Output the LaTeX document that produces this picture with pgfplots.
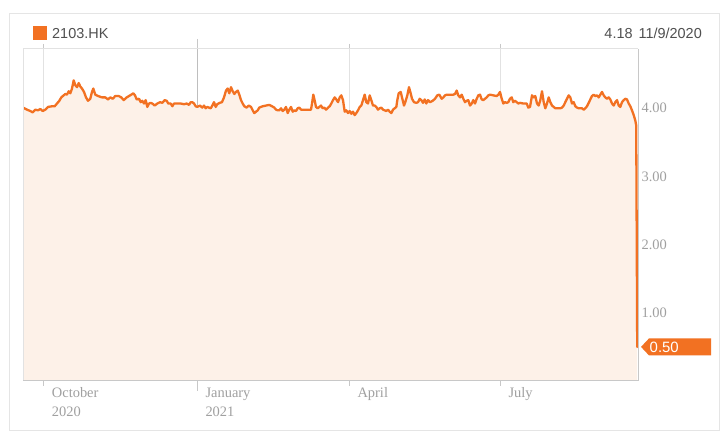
\documentclass[border=0pt]{standalone}
\usepackage{pgfplots}
\pgfplotsset{compat=1.18}
\usepackage{pgfplotstable}
\usepackage{fontspec}
\setmainfont{Liberation Serif}
\newfontfamily\hdrfont{Liberation Sans}
\definecolor{orng}{RGB}{242,113,34}
\definecolor{fillc}{RGB}{253,241,232}
\definecolor{framec}{RGB}{229,229,229}
\definecolor{gridc}{RGB}{226,226,226}
\definecolor{gridj}{RGB}{190,190,190}
\definecolor{borderc}{RGB}{200,200,200}
\definecolor{tickc}{RGB}{160,160,160}
\definecolor{hdrc}{RGB}{80,80,80}

% x = horizontal position along the time axis (Oct 1 = 43.4, Jan 1 = 197, Apr 1 = 349, Jul 1 = 500)
\pgfplotstableread{
x y
23 4.01
27 3.98
30.3 3.96
32.7 3.94
35.3 3.98
38 3.97
40.3 3.99
42.7 3.96
45.3 3.98
48 4.02
52 4.03
54.7 4.03
57 4.07
59.3 4.11
61.3 4.16
63.7 4.19
65.3 4.21
67 4.20
68.7 4.25
70.3 4.22
72 4.29
73.7 4.41
75.3 4.34
77 4.31
78.7 4.37
80.3 4.32
82 4.29
84 4.24
86 4.16
88 4.11
90.3 4.14
92 4.24
93.3 4.29
95.3 4.20
98 4.18
102 4.16
105.3 4.16
108 4.13
110.3 4.16
112.7 4.14
115.3 4.18
118.7 4.18
121.3 4.16
123.7 4.12
126.7 4.16
129 4.18
131.3 4.20
133.3 4.22
135 4.19
136.7 4.13
139 4.14
140.7 4.09
142.3 4.11
144 4.07
145.7 4.12
147.3 4.02
149 4.07
150.7 4.08
152.3 4.07
154.7 4.04
157.3 4.07
160 4.09
162.3 4.08
164.7 4.12
166.7 4.11
168.3 4.07
170.7 4.07
172.3 4.03
174 4.07
177.3 4.07
180.7 4.07
184 4.06
186.7 4.07
189 4.05
190.7 4.09
192.3 4.09
194 4.07
195.7 4.03
197.3 4.02
200 4.04
202.3 4.01
204 4.04
205.7 4.00
207.3 4.02
209 4.01
210.7 4.00
212.3 4.04
214 4.09
215.7 4.02
217.3 4.06
219.7 4.08
222 4.09
224 4.16
226 4.26
227.7 4.29
229.3 4.22
231 4.31
232.7 4.25
234.3 4.21
236 4.24
237.7 4.26
239.3 4.20
241 4.12
242.7 4.07
244.3 4.03
246.7 4.01
248.7 4.04
251 4.02
252.7 3.97
254.3 3.93
256 3.95
257.7 3.97
259.3 4.01
262.7 4.03
266 4.04
269.3 4.05
272 4.03
274.3 4.01
276 3.98
277.7 3.97
279.3 3.97
281 4.00
282.7 3.96
284.3 3.98
286 4.02
287.7 3.93
289.3 3.98
291 4.02
292.7 3.95
294.3 3.97
296 3.96
297.7 4.00
299.3 4.01
301 3.98
304.3 3.98
307.7 3.98
311 3.98
312 4.07
313.3 4.20
314.3 4.14
316 4.02
317.7 4.00
319.3 4.02
321 4.04
322.7 4.00
324.3 4.01
326 3.98
328 4.01
329.7 4.03
331.3 4.07
333 4.12
334.7 4.16
336.3 4.13
338 4.09
339.7 4.16
341.3 4.19
343 4.12
344.7 3.95
346.3 3.97
348 3.93
349.7 3.96
351.3 3.92
353 3.95
354.7 3.90
356.3 3.93
358 3.97
359.7 4.02
361.3 4.04
363 4.12
364.7 4.20
366.3 4.09
368 4.07
369.7 4.19
371.3 4.12
373 4.04
374.7 4.04
376.3 4.02
378 3.98
379.7 4.00
381.3 4.01
383 3.98
384.7 3.97
386.3 3.96
388 3.98
389.7 3.95
391.3 3.93
393 3.98
394.7 4.00
396.3 4.02
397.3 4.12
398.7 4.22
400.7 4.24
402 4.16
404 4.04
405.3 4.09
407.3 4.19
409 4.31
410.3 4.24
412 4.14
414 4.09
416.3 4.08
418 4.09
419.7 4.14
421.3 4.12
423 4.08
424.7 4.13
426.3 4.07
428 4.12
430 4.09
432.7 4.11
435 4.14
437.3 4.19
439.3 4.20
441.7 4.14
443.3 4.16
445 4.19
446.7 4.20
450 4.20
453.3 4.20
455 4.21
456.7 4.26
458.3 4.19
460 4.16
461.7 4.20
463.3 4.14
465 4.09
466.7 4.11
468.3 4.12
470 4.04
471.7 4.07
473.3 4.12
475 4.07
476.7 4.14
478.3 4.19
480 4.20
481.7 4.13
483.3 4.12
485 4.14
486.7 4.16
488.3 4.19
490 4.20
493.3 4.19
496.7 4.18
498.3 4.20
500 4.24
501.7 4.14
503.3 4.07
505 4.09
506.7 4.08
508.3 4.09
510 4.14
511.7 4.16
513.3 4.09
515 4.11
516.7 4.09
518.3 4.07
520 4.08
523.3 4.07
526.7 4.07
528.3 4.01
530 4.02
532 4.19
533.7 4.16
535.3 4.18
537 4.07
538.7 4.04
540.3 4.12
542 4.25
543.7 4.09
545.3 4.00
547 4.07
548.7 4.16
550.3 4.09
552 4.04
553.7 4.02
555.3 4.00
557 4.00
560.3 4.00
562 4.01
563.7 4.04
565.3 4.09
567 4.14
568.7 4.19
570.3 4.16
572 4.07
573.7 4.09
575.3 4.03
577 4.01
578.7 4.00
582 4.00
583.7 3.98
585.3 4.00
587 4.03
588.7 4.08
590.3 4.13
592 4.18
593.7 4.20
595.3 4.18
597 4.19
598.7 4.16
600.3 4.20
602 4.24
603.7 4.19
605.3 4.16
607 4.14
608.7 4.16
610.3 4.13
612 4.07
613.7 4.04
615.3 4.09
617 4.12
618.7 4.04
620.3 4.02
622 4.09
623.7 4.12
625.3 4.14
627 4.13
628.7 4.07
630.3 4.03
632 3.97
633.7 3.90
635.3 3.82
636.2 3.75
637.2 0.50
}\prices

\begin{document}
\begin{tikzpicture}[x=1bp,y=1bp]
\fill[white] (0,0) rectangle (728,442);
\draw[framec, line width=1bp] (9.5,11.5) rectangle (719.5,428.5);
\fill[orng] (32.5,402) rectangle (46.5,416);
\node[anchor=base west, inner sep=0, text=hdrc, font=\hdrfont\fontsize{14.5}{16}\selectfont] at (52,403.7) {2103.HK};
\node[anchor=base east, inner sep=0, text=hdrc, font=\hdrfont\fontsize{14.5}{16}\selectfont] at (702,403.7) {4.18\hspace{6bp}11/9/2020};
\begin{axis}[
  at={(23bp,61bp)}, anchor=south west,
  scale only axis, width=615bp, height=332bp,
  xmin=23, xmax=638, ymin=0, ymax=4.87,
  axis line style={draw=none},
  xtick={43.4,349,500},
  xticklabels={{October\\2020},{April},{July}},
  extra x ticks={197},
  extra x tick labels={{January\\2021}},
  extra x tick style={major tick length=10bp, major grid style={draw=gridj, line width=1bp},
    xticklabel style={yshift=4bp}},
  xmajorgrids, major grid style={draw=gridc, line width=1bp},
  xtick align=outside, major tick length=5bp,
  tick style={draw=borderc, line width=1bp},
  xticklabel style={anchor=north west, align=left, xshift=5bp, yshift=2bp, font=\fontsize{14.5}{19}\selectfont, text=tickc},
  ytick={1,2,3,4},
  yticklabel pos=right,
  ytick style={draw=none},
  yticklabel style={anchor=west, font=\fontsize{14.5}{16}\selectfont, text=tickc,
    /pgf/number format/fixed, /pgf/number format/precision=2, /pgf/number format/fixed zerofill},
  /pgf/number format/assume math mode=true,
]
\addplot[draw=none, fill=fillc] table[x=x,y=y]{\prices} \closedcycle;
\addplot[orng, line width=2.3bp, line join=round, line cap=round] table[x=x,y=y]{\prices};
\coordinate (tag) at (axis cs:638,0.5);
\end{axis}
\draw[gridc, line width=1bp] (23,61) -- (23,393) -- (638,393);
\draw[borderc, line width=1bp] (638,393) -- (638,61) -- (23,61);
\fill[orng, shift={(tag)}] (3,0) -- (11,8.5) -- (73,8.5) -- (73,-8.5) -- (11,-8.5) -- cycle;
\node[anchor=west, inner sep=0, text=white, font=\hdrfont\fontsize{15}{16}\selectfont] at ([xshift=11.5bp]tag) {0.50};
\end{tikzpicture}
\end{document}
